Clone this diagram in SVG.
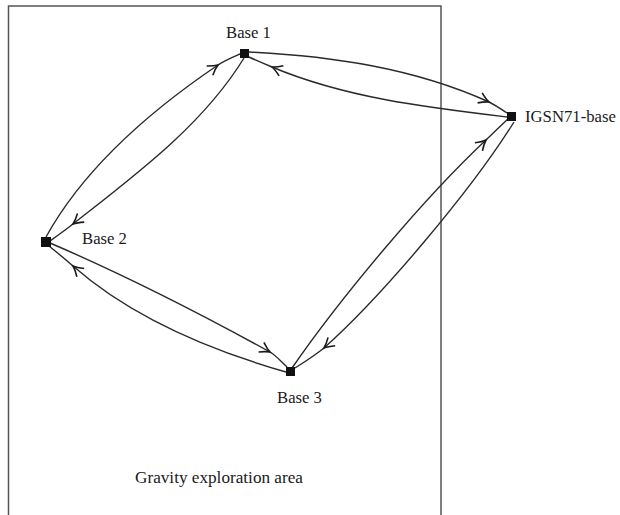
<svg xmlns="http://www.w3.org/2000/svg" width="620" height="515" viewBox="0 0 620 515">
  <defs>
    <style>
      .frame { fill: none; stroke: #555; stroke-width: 1.5; }
      .link { fill: none; stroke: #2a2a2a; stroke-width: 1.4; marker-mid: url(#barb); }
      .station { fill: #111; }
      .label { font-family: "Liberation Serif", "Times New Roman", serif; font-size: 16.7px; fill: #1a1a1a; }
      .area { font-size: 17.2px; }
    </style>
    <!-- open curved barb, tip at the marker origin -->
    <marker id="barb" markerUnits="userSpaceOnUse" viewBox="-12 -7 15 14" markerWidth="15" markerHeight="14" refX="0" refY="0" orient="auto" overflow="visible">
      <path d="M-10,-5.5 Q-4,-1.3 0,0 Q-4,1.3 -10,5.5" fill="none" stroke="#1a1a1a" stroke-width="1.6" stroke-linejoin="miter"/>
    </marker>
  </defs>

  <rect id="exploration-area" class="frame" x="8.5" y="6" width="432.5" height="520"/>

  <g id="connectors">
    <!-- Base 1 -> IGSN71-base -->
    <path class="link" d="M249,52 C331,56 414,68 489,102 C495.4,104.9 501,109.4 507,113"/>
    <!-- IGSN71-base -> Base 1 -->
    <path class="link" d="M507,117 C427.6,107.5 345.8,98 272,67 C264.6,63.9 256.3,60.3 249,57"/>
    <!-- Base 2 -> Base 1 -->
    <path class="link" d="M46,237 C85.2,166.1 150.8,110.4 218,65 C224.6,60.5 233.1,57 240,54"/>
    <!-- Base 1 -> Base 2 -->
    <path class="link" d="M244,58 C202.7,125.4 135.1,175.2 73,224 C65.1,230.2 58.1,235.2 50,241"/>
    <!-- Base 2 -> Base 3 -->
    <path class="link" d="M50,243 C125.4,275.3 198.2,312.5 270,352 C276.1,355.4 281.3,362 287,367"/>
    <!-- Base 3 -> Base 2 -->
    <path class="link" d="M286,372 C210.1,350.3 132.3,318.1 73,266 C65.1,259.1 56.7,252.2 49,246"/>
    <!-- Base 3 -> IGSN71-base -->
    <path class="link" d="M292,368 C340.8,297.4 424,198 486,140 C493.7,132.8 501.2,125.2 509,118"/>
    <!-- IGSN71-base -> Base 3 -->
    <path class="link" d="M514,122 C471.6,190 382,296.2 324,348 C313.75,356.3 303.8,362.4 295,368"/>
  </g>

  <g id="base-1">
    <rect class="station" x="240" y="49" width="9" height="9"/>
    <text class="label" x="226" y="38">Base 1</text>
  </g>
  <g id="igsn71-base">
    <rect class="station" x="507" y="112" width="9" height="9"/>
    <text class="label" x="525" y="121.5">IGSN71-base</text>
  </g>
  <g id="base-2">
    <rect class="station" x="41" y="237" width="10" height="10"/>
    <text class="label" x="82" y="244">Base 2</text>
  </g>
  <g id="base-3">
    <rect class="station" x="286" y="367" width="9" height="9"/>
    <text class="label" x="277" y="402.5">Base 3</text>
  </g>

  <text id="area-label" class="label area" x="135" y="483">Gravity exploration area</text>
</svg>
